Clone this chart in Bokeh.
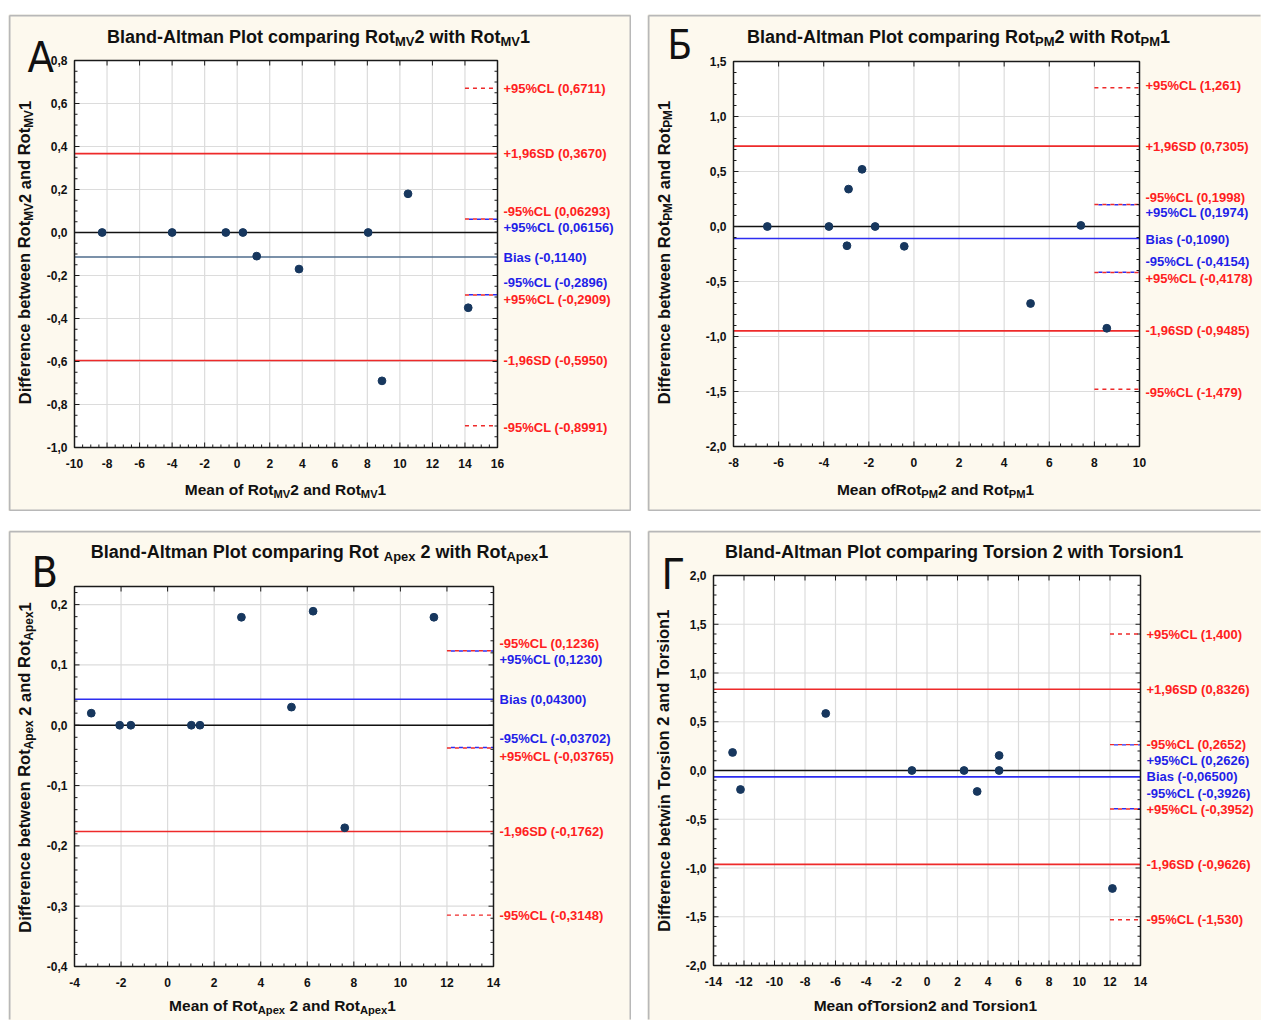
import numpy as np
from bokeh.plotting import figure
from bokeh.models import ColumnDataSource, Spacer
from bokeh.core.properties import field, value
from bokeh.layouts import column, row
from bokeh.embed import file_html
from bokeh.resources import INLINE

# ======================= DATA =======================
# Panel А : Rot_MV
a_mean = [-8.3, -4.0, -0.7, 0.35, 1.2, 3.8, 8.05, 8.9, 10.5, 14.2]
a_diff = [0.0, 0.0, 0.0, 0.0, -0.11, -0.17, 0.0, -0.69, 0.18, -0.35]
a_ref_vals = [0.6711, 0.3670, 0.06293, 0.06156, -0.1140, -0.2896, -0.2909, -0.5950, -0.8991]
a_ref_kind = ["cl_r", "sd", "cl_r", "cl_b", "bias", "cl_b", "cl_r", "sd", "cl_r"]
a_ref_text = ["+95%CL (0,6711)", "+1,96SD (0,3670)", "-95%CL (0,06293)", "+95%CL (0,06156)",
              "Bias (-0,1140)", "-95%CL (-0,2896)", "+95%CL (-0,2909)", "-1,96SD (-0,5950)",
              "-95%CL (-0,8991)"]
a_xticks = [-10, -8, -6, -4, -2, 0, 2, 4, 6, 8, 10, 12, 14, 16]
a_yticks = [-1.0, -0.8, -0.6, -0.4, -0.2, 0.0, 0.2, 0.4, 0.6, 0.8]
a_title = [("Bland-Altman Plot comparing Rot", 0), ("MV", 1), ("2 with Rot", 0), ("MV", 1), ("1", 0)]
a_xlabel = [("Mean of Rot", 0), ("MV", 1), ("2 and Rot", 0), ("MV", 1), ("1", 0)]
a_ylabel = [("Difference between Rot", 0), ("MV", 1), ("2 and Rot", 0), ("MV", 1), ("1", 0)]

# Panel Б : Rot_PM
b_mean = [-6.5, -3.77, -2.9, -2.3, -1.72, -2.97, -0.43, 5.17, 7.4, 8.55]
b_diff = [0.0, 0.0, 0.34, 0.52, 0.0, -0.175, -0.18, -0.70, 0.01, -0.925]
b_ref_vals = [1.261, 0.7305, 0.1998, 0.1974, -0.1090, -0.4154, -0.4178, -0.9485, -1.479]
b_ref_kind = ["cl_r", "sd", "cl_r", "cl_b", "bias", "cl_b", "cl_r", "sd", "cl_r"]
b_ref_text = ["+95%CL (1,261)", "+1,96SD (0,7305)", "-95%CL (0,1998)", "+95%CL (0,1974)",
              "Bias (-0,1090)", "-95%CL (-0,4154)", "+95%CL (-0,4178)", "-1,96SD (-0,9485)",
              "-95%CL (-1,479)"]
b_xticks = [-8, -6, -4, -2, 0, 2, 4, 6, 8, 10]
b_yticks = [-2.0, -1.5, -1.0, -0.5, 0.0, 0.5, 1.0, 1.5]
b_title = [("Bland-Altman Plot comparing Rot", 0), ("PM", 1), ("2 with Rot", 0), ("PM", 1), ("1", 0)]
b_xlabel = [("Mean ofRot", 0), ("PM", 1), ("2 and Rot", 0), ("PM", 1), ("1", 0)]
b_ylabel = [("Difference between Rot", 0), ("PM", 1), ("2 and Rot", 0), ("PM", 1), ("1", 0)]

# Panel В : Rot_Apex
c_mean = [-3.28, -2.06, -1.58, 1.02, 1.39, 3.17, 5.32, 6.25, 7.61, 11.44]
c_diff = [0.02, 0.0, 0.0, 0.0, 0.0, 0.179, 0.03, 0.189, -0.17, 0.179]
c_ref_vals = [0.1236, 0.1230, 0.04300, -0.03702, -0.03765, -0.1762, -0.3148]
c_ref_kind = ["cl_r", "cl_b", "bias", "cl_b", "cl_r", "sd", "cl_r"]
c_ref_text = ["-95%CL (0,1236)", "+95%CL (0,1230)", "Bias (0,04300)", "-95%CL (-0,03702)",
              "+95%CL (-0,03765)", "-1,96SD (-0,1762)", "-95%CL (-0,3148)"]
c_xticks = [-4, -2, 0, 2, 4, 6, 8, 10, 12, 14]
c_yticks = [-0.4, -0.3, -0.2, -0.1, 0.0, 0.1, 0.2]
c_title = [("Bland-Altman Plot comparing Rot ", 0), ("Apex", 1), (" 2 with Rot", 0), ("Apex", 1), ("1", 0)]
c_xlabel = [("Mean of Rot", 0), ("Apex", 1), (" 2 and Rot", 0), ("Apex", 1), ("1", 0)]
c_ylabel = [("Difference between Rot", 0), ("Apex", 1), (" 2 and Rot", 0), ("Apex", 1), ("1", 0)]

# Panel Г : Torsion
d_mean = [-12.75, -12.23, -6.64, -0.99, 2.43, 3.29, 4.73, 4.73, 12.16]
d_diff = [0.185, -0.195, 0.585, 0.0, 0.0, -0.215, 0.154, 0.0, -1.21]
d_ref_vals = [1.400, 0.8326, 0.2652, 0.2626, -0.06500, -0.3926, -0.3952, -0.9626, -1.530]
d_ref_kind = ["cl_r", "sd", "cl_r", "cl_b", "bias", "cl_b", "cl_r", "sd", "cl_r"]
d_ref_text = ["+95%CL (1,400)", "+1,96SD (0,8326)", "-95%CL (0,2652)", "+95%CL (0,2626)",
              "Bias (-0,06500)", "-95%CL (-0,3926)", "+95%CL (-0,3952)", "-1,96SD (-0,9626)",
              "-95%CL (-1,530)"]
d_xticks = [-14, -12, -10, -8, -6, -4, -2, 0, 2, 4, 6, 8, 10, 12, 14]
d_yticks = [-2.0, -1.5, -1.0, -0.5, 0.0, 0.5, 1.0, 1.5, 2.0]
d_title = [("Bland-Altman Plot comparing Torsion 2 with Torsion1", 0)]
d_xlabel = [("Mean ofTorsion2 and Torsion1", 0)]
d_ylabel = [("Difference betwin Torsion 2 and Torsion1", 0)]

# ======================= STYLE =======================
CREAM = "#fdf9ee"
PANEL_EDGE = "#b8b8b8"
DOT = "#17375e"
INK = "#1a1a1a"
RED_LINE = "#ee2a2a"
RED_TXT = "#ff2020"
BLUE_LINE = "#2d2df0"
BLUE_TXT = "#1f1fe8"
GRID = "#dcdcdc"
FONT = "Liberation Sans"
LETTER_FONT = "Liberation Sans Narrow, DejaVu Sans Condensed, Liberation Sans"
TITLE_SIZE = 18.0
XLAB_SIZE = 15.5
YLAB_SIZE = 16.5
SUB = 0.72
SUB_SHIFT = 0.27

AW = {' ': 278, '-': 333, '1': 556, '2': 556, 'A': 722, 'B': 722, 'D': 722, 'M': 833, 'P': 667,
      'R': 722, 'T': 611, 'V': 667, 'a': 556, 'b': 611, 'c': 556, 'd': 611, 'e': 556, 'f': 333,
      'g': 611, 'h': 611, 'i': 278, 'l': 278, 'm': 889, 'n': 611, 'o': 611, 'p': 611, 'r': 389,
      's': 556, 't': 333, 'w': 778, 'x': 556}


def tw(s, size):
    return sum(AW.get(ch, 580) for ch in s) * size / 1000.0


def fmt_y(v):
    s = ("%.1f" % v).replace(".", ",")
    return "0,0" if s == "-0,0" else s


def make_panel(cfg, mean, diff, ref_vals, ref_kind, ref_text, xticks, yticks,
               title, xlabel, ylabel, letter):
    x0, x1 = cfg["xr"]
    y0, y1 = cfg["yr"]
    W, H = cfg["W"], cfg["H"]
    fw, fh, BL, BT = cfg["fw"], cfg["fh"], cfg["BL"], cfg["BT"]
    BR = W - BL - fw
    BB = H - BT - fh
    sx = fw / (x1 - x0)
    sy = fh / (y1 - y0)
    xa, xb = x0 - BL / sx, x1 + BR / sx
    ya, yb = y0 - BB / sy, y1 + BT / sy
    p = figure(width=W, height=H, x_range=(xa, xb), y_range=(ya, yb),
               min_border=0, x_axis_location=None, y_axis_location=None, title_location=None,
               output_backend="svg", toolbar_location=None,
               background_fill_color=CREAM, border_fill_color=CREAM, outline_line_color=None)
    p.grid.visible = False

    # panel edge (grey frame of each sub-figure)
    e = cfg["edges"]
    ex0, ex1 = xa + 1 / sx, xb - 1 / sx
    ey0, ey1 = ya + 1 / sy, yb - 1 / sy
    segs = {"l": (ex0, ey0, ex0, ey1), "r": (ex1, ey0, ex1, ey1),
            "t": (ex0, ey1, ex1, ey1), "b": (ex0, ey0, ex1, ey0)}
    sel = [segs[k] for k in e]
    p.segment(x0=[s[0] for s in sel], y0=[s[1] for s in sel], x1=[s[2] for s in sel], y1=[s[3] for s in sel],
              line_color=PANEL_EDGE, line_width=2)

    # plot area
    p.quad(left=[x0], right=[x1], bottom=[y0], top=[y1], fill_color="white", line_color=None)
    gx = [t for t in xticks if x0 < t < x1]
    gy = [t for t in yticks if y0 < t < y1]
    p.segment(x0=gx, x1=gx, y0=[y0] * len(gx), y1=[y1] * len(gx), line_color=GRID, line_width=1.2)
    p.segment(x0=[x0] * len(gy), x1=[x1] * len(gy), y0=gy, y1=gy, line_color=GRID, line_width=1.2)

    # reference lines
    p.segment(x0=[x0], x1=[x1], y0=[0], y1=[0], line_color="#111111", line_width=1.4)
    sd_v = [v for v, k in zip(ref_vals, ref_kind) if k == "sd"]
    bias_v = [v for v, k in zip(ref_vals, ref_kind) if k == "bias"]
    p.segment(x0=[x0] * len(sd_v), x1=[x1] * len(sd_v), y0=sd_v, y1=sd_v, line_color=RED_LINE, line_width=1.6)
    p.segment(x0=[x0] * len(bias_v), x1=[x1] * len(bias_v), y0=bias_v, y1=bias_v,
              line_color=cfg["bias_color"], line_width=1.6)
    xs = cfg["dash_x"]
    bl_v = [v for v, k in zip(ref_vals, ref_kind) if k == "cl_b"]
    rd_v = [v for v, k in zip(ref_vals, ref_kind) if k == "cl_r"]
    p.segment(x0=[xs] * len(bl_v), x1=[x1] * len(bl_v), y0=bl_v, y1=bl_v,
              line_color=BLUE_LINE, line_width=1.4, line_dash="4 4", line_dash_offset=4)
    p.segment(x0=[xs] * len(rd_v), x1=[x1] * len(rd_v), y0=rd_v, y1=rd_v,
              line_color=RED_LINE, line_width=1.4, line_dash="4 4")

    # points
    p.scatter(mean, diff, size=7.8, color=DOT)

    # frame outline and inward ticks
    p.quad(left=[x0], right=[x1], bottom=[y0], top=[y1], fill_color=None, line_color=INK, line_width=1.5)
    xminor = [t for t in np.round(np.arange(x0, x1 + 1e-9, cfg["xminor"]), 4) if t not in xticks]
    yminor = [t for t in np.round(np.arange(y0, y1 + 1e-9, cfg["yminor"]), 4) if t not in yticks]
    tk = dict(length_units="screen", line_color=INK, line_width=1)
    p.ray(x=xticks, y=[y0] * len(xticks), length=5, angle=np.pi / 2, **tk)
    p.ray(x=xminor, y=[y0] * len(xminor), length=3, angle=np.pi / 2, **tk)
    p.ray(x=xticks, y=[y1] * len(xticks), length=5, angle=-np.pi / 2, **tk)
    p.ray(x=[x0] * len(yticks), y=yticks, length=5, angle=0, **tk)
    p.ray(x=[x0] * len(yminor), y=yminor, length=3, angle=0, **tk)
    p.ray(x=[x1] * len(yticks), y=yticks, length=5, angle=np.pi, **tk)
    p.ray(x=[x1] * len(yminor), y=yminor, length=3, angle=np.pi, **tk)

    # tick labels
    p.text(x=xticks, y=[y0] * len(xticks), text=["%d" % t for t in xticks], y_offset=11,
           text_font=value(FONT), text_font_style=value("bold"), text_font_size=value("12px"),
           text_color="#111111", text_align=value("center"), text_baseline=value("top"))
    p.text(x=[x0] * len(yticks), y=yticks, text=[fmt_y(t) for t in yticks], x_offset=-7,
           text_font=value(FONT), text_font_style=value("bold"), text_font_size=value("12px"),
           text_color="#111111", text_align=value("right"), text_baseline=value("middle"))

    # right-hand labels of the reference lines
    rl = dict(x=[x1] * len(ref_vals), y=list(ref_vals), yo=list(cfg["nudge"]), t=list(ref_text),
              c=[BLUE_TXT if k in ("bias", "cl_b") else RED_TXT for k in ref_kind])
    p.text(x="x", y="y", text="t", x_offset=6, y_offset="yo", source=ColumnDataSource(rl),
           text_color=field("c"), text_font=value(FONT), text_font_style=value("bold"),
           text_font_size=value("13px"), text_align=value("left"), text_baseline=value("middle"))

    # title, axis titles (with subscripts) and panel letter; positions are page pixels
    fl = cfg["left"] + BL
    ft = cfg["top"] + BT
    g = dict(x=[], y=[], xo=[], yo=[], t=[], a=[], fs=[])

    def put(px, py, text, size, angle=0.0):
        g["x"].append(x0)
        g["y"].append(y1)
        g["xo"].append(px - fl)
        g["yo"].append(py - ft)
        g["t"].append(text)
        g["a"].append(angle)
        g["fs"].append("%.2fpx" % size)

    def rich(cx, cy, pieces, size, vertical=False):
        sub = size * SUB
        total = sum(tw(t, sub if s else size) for t, s in pieces)
        pos = -total / 2.0
        for t, s in pieces:
            fs = sub if s else size
            shift = size * SUB_SHIFT if s else 0.0
            body = t.strip(" ")
            lead = tw(t[:len(t) - len(t.lstrip(" "))], fs)
            if body:
                if not vertical:
                    put(cx + pos + lead, cy + shift, body, fs)
                else:
                    put(cx + shift, cy - pos - lead, body, fs, angle=np.pi / 2)
            pos += tw(t, fs)

    rich(cfg["title_c"][0], cfg["title_c"][1], title, TITLE_SIZE)
    rich(cfg["xlab_c"][0], cfg["xlab_c"][1], xlabel, XLAB_SIZE)
    rich(cfg["ylab_c"][0], cfg["ylab_c"][1], ylabel, YLAB_SIZE, vertical=True)
    p.text(x="x", y="y", text="t", x_offset="xo", y_offset="yo", angle="a", source=ColumnDataSource(g),
           text_font_size=field("fs"), text_color="#111111", text_font=value(FONT),
           text_font_style=value("bold"), text_align=value("left"), text_baseline=value("middle"))
    lx, ly, lsize = cfg["letter"]
    p.text(x=[x0], y=[y1], text=[letter], x_offset=lx - fl, y_offset=ly - ft,
           text_font=value(LETTER_FONT), text_font_style=value("normal"),
           text_font_size=value("%dpx" % lsize), text_color="#111111",
           text_align=value("left"), text_baseline=value("middle"))
    return p


cfg_a = dict(left=8, top=14, W=623, H=497, xr=(-10, 16), yr=(-1.0, 0.8), fw=423, fh=387, BL=66, BT=46,
             xminor=0.5, yminor=0.05, dash_x=14, bias_color="#4f6c8c", edges="ltrb",
             nudge=[0, 0, -7.5, 8, 0, -12.5, 4, 0, 2],
             title_c=(318, 36), xlab_c=(285, 489), ylab_c=(24, 252), letter=(27, 56, 43))
cfg_b = dict(left=647, top=14, W=614, H=497, xr=(-8, 10), yr=(-2.0, 1.5), fw=406, fh=385, BL=86, BT=47,
             xminor=0.5, yminor=0.1, dash_x=8, bias_color=BLUE_LINE, edges="ltb",
             nudge=[-2, 0, -7.5, 8, 1, -11, 6, 0, 3],
             title_c=(958, 36), xlab_c=(935, 489), ylab_c=(663, 252), letter=(667, 44, 40))
cfg_c = dict(left=8, top=530, W=623, H=490, xr=(-4, 14), yr=(-0.4, 0.23), fw=419, fh=380, BL=66, BT=56,
             xminor=0.5, yminor=0.02, dash_x=12, bias_color=BLUE_LINE, edges="ltr",
             nudge=[-7.5, 8.5, 0, -8.7, 9, 0, 0],
             title_c=(319, 551), xlab_c=(282, 1005), ylab_c=(24, 767), letter=(31, 571, 43))
cfg_d = dict(left=647, top=530, W=614, H=490, xr=(-14, 14), yr=(-2.0, 2.0), fw=427, fh=390, BL=66, BT=45,
             xminor=0.5, yminor=0.1, dash_x=12, bias_color=BLUE_LINE, edges="lt",
             nudge=[0, 0, 0, 16, 0, -15, 0, 0, 0],
             title_c=(955, 551), xlab_c=(926, 1005), ylab_c=(663, 769), letter=(661, 573, 43))

pA = make_panel(cfg_a, a_mean, a_diff, a_ref_vals, a_ref_kind, a_ref_text, a_xticks, a_yticks,
                a_title, a_xlabel, a_ylabel, "А")
pB = make_panel(cfg_b, b_mean, b_diff, b_ref_vals, b_ref_kind, b_ref_text, b_xticks, b_yticks,
                b_title, b_xlabel, b_ylabel, "Б")
pC = make_panel(cfg_c, c_mean, c_diff, c_ref_vals, c_ref_kind, c_ref_text, c_xticks, c_yticks,
                c_title, c_xlabel, c_ylabel, "В")
pD = make_panel(cfg_d, d_mean, d_diff, d_ref_vals, d_ref_kind, d_ref_text, d_xticks, d_yticks,
                d_title, d_xlabel, d_ylabel, "Г")

grid = column(row(pA, pB, spacing=16), row(pC, pD, spacing=16), spacing=19)
layout = row(Spacer(width=8, height=10), column(Spacer(width=10, height=14), grid))

open("out.html", "w").write(file_html(layout, INLINE))
